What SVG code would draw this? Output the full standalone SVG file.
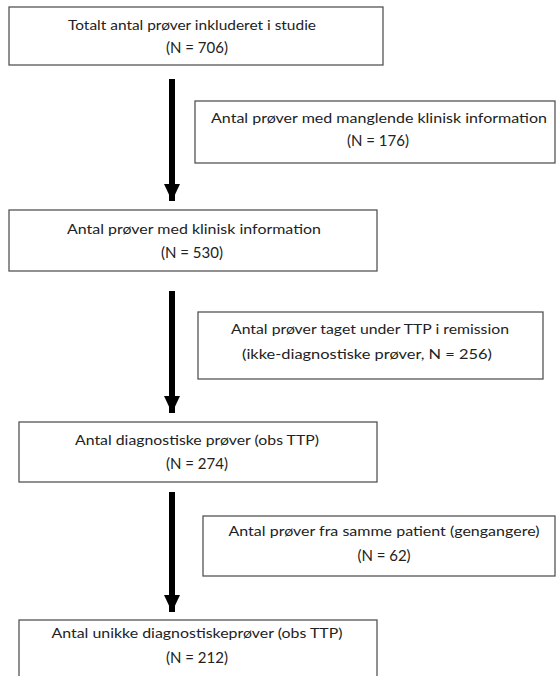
<svg xmlns="http://www.w3.org/2000/svg" width="556" height="676" viewBox="0 0 556 676">
<style>
.box{fill:#fff;stroke:#555;stroke-width:1.3}
.t{font-family:Lato,"Liberation Sans",sans-serif;font-size:14px;fill:#222;text-anchor:middle}
.n{font-size:15px}
.shaft{stroke:#000;stroke-width:6}
</style>
<defs>
<marker id="ah" markerUnits="userSpaceOnUse" markerWidth="18" markerHeight="18" refX="17" refY="8" orient="auto">
<path d="M0,0 L17,8 L0,16 Z" fill="#000"/>
</marker>
</defs>
<rect width="556" height="676" fill="#fff"/>
<g id="connectors">
<line class="shaft" x1="172" y1="79" x2="172" y2="201" marker-end="url(#ah)"/>
<line class="shaft" x1="172" y1="291" x2="172" y2="413" marker-end="url(#ah)"/>
<line class="shaft" x1="172" y1="492" x2="172" y2="612" marker-end="url(#ah)"/>
</g>
<g id="n1">
<rect class="box" x="9" y="7" width="374" height="58"/>
<text class="t" x="192" y="30" textLength="248" lengthAdjust="spacingAndGlyphs">Totalt antal prøver inkluderet i studie</text>
<text class="t n" x="197" y="53">(N = 706)</text>
</g>
<g id="n2">
<rect class="box" x="195" y="101" width="360" height="62"/>
<text class="t" x="379" y="123" textLength="336" lengthAdjust="spacingAndGlyphs">Antal prøver med manglende klinisk information</text>
<text class="t n" x="378" y="146">(N = 176)</text>
</g>
<g id="n3">
<rect class="box" x="9" y="210" width="368" height="61"/>
<text class="t" x="194" y="234" textLength="254" lengthAdjust="spacingAndGlyphs">Antal prøver med klinisk information</text>
<text class="t n" x="192" y="258">(N = 530)</text>
</g>
<g id="n4">
<rect class="box" x="198" y="312" width="345" height="67"/>
<text class="t" x="370" y="334" textLength="278" lengthAdjust="spacingAndGlyphs">Antal prøver taget under TTP i remission</text>
<text class="t" x="367" y="359" textLength="250" lengthAdjust="spacingAndGlyphs">(ikke-diagnostiske prøver, N = 256)</text>
</g>
<g id="n5">
<rect class="box" x="19" y="422" width="358" height="60"/>
<text class="t" x="197" y="445" textLength="244" lengthAdjust="spacingAndGlyphs">Antal diagnostiske prøver (obs TTP)</text>
<text class="t n" x="197" y="469">(N = 274)</text>
</g>
<g id="n6">
<rect class="box" x="203" y="516" width="352" height="60"/>
<text class="t" x="384" y="536" textLength="311" lengthAdjust="spacingAndGlyphs">Antal prøver fra samme patient (gengangere)</text>
<text class="t n" x="384" y="561">(N = 62)</text>
</g>
<g id="n7">
<rect class="box" x="19" y="620" width="358" height="70"/>
<text class="t" x="197" y="638" textLength="291" lengthAdjust="spacingAndGlyphs">Antal unikke diagnostiskeprøver (obs TTP)</text>
<text class="t n" x="197" y="663">(N = 212)</text>
</g>
</svg>
